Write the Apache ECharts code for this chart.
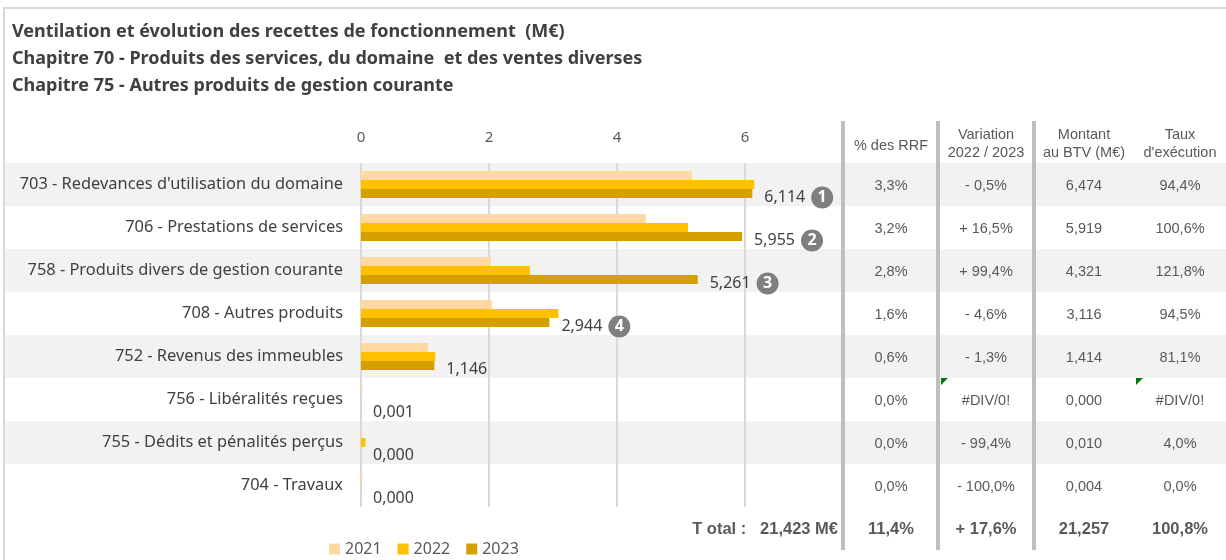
<!DOCTYPE html>
<html>
<head>
<meta charset="utf-8">
<script src="https://cdn.jsdelivr.net/npm/echarts@6/dist/echarts.min.js"></script>
<style>
  html, body { margin: 0; padding: 0; background: #fff; }
  #main { width: 1226px; height: 560px; }
</style>
</head>
<body>
<div id="main"></div>
<script>
var categories = [
    "703 - Redevances d'utilisation du domaine",
    '706 - Prestations de services',
    '758 - Produits divers de gestion courante',
    '708 - Autres produits',
    '752 - Revenus des immeubles',
    '756 - Libéralités reçues',
    '755 - Dédits et pénalités perçus',
    '704 - Travaux'
];
var years = ['2021', '2022', '2023'];
var v2021 = [5.17, 4.45, 2.03, 2.05, 1.05, 0.02, 0.015, 0.02];
var v2022 = [6.145, 5.11, 2.638, 3.086, 1.161, 0, 0.07, 0.005];
var v2023 = [6.114, 5.955, 5.261, 2.944, 1.146, 0.001, 0.0004, 0];
var ranks = [1, 2, 3, 4, null, null, null, null];
var xTicks = [0, 2, 4, 6];

// tableau de droite
var headers = [['% des RRF'], ['Variation', '2022 / 2023'], ['Montant', 'au BTV (M€)'], ['Taux', "d'exécution"]];
var pctRRF = ['3,3%', '3,2%', '2,8%', '1,6%', '0,6%', '0,0%', '0,0%', '0,0%'];
var variation = ['- 0,5%', '+ 16,5%', '+ 99,4%', '- 4,6%', '- 1,3%', '#DIV/0!', '- 99,4%', '- 100,0%'];
var montantBTV = ['6,474', '5,919', '4,321', '3,116', '1,414', '0,000', '0,010', '0,004'];
var tauxExec = ['94,4%', '100,6%', '121,8%', '94,5%', '81,1%', '#DIV/0!', '4,0%', '0,0%'];
var totalLabel = 'T otal :   21,423 M€';
var totals = ['11,4%', '+ 17,6%', '21,257', '100,8%'];

var colors = ['#ffd9a1', '#ffc000', '#d4a000'];
var textDark = '#404040';
var textGrey = '#595959';
var colX = [891, 986, 1084, 1180];
var dividerX = [843, 938, 1034];

function fmt(v) {
    return v.toFixed(3).replace('.', ',');
}

var myChart = echarts.init(document.getElementById('main'));

var option = {
    animation: false,
    backgroundColor: '#fff',
    title: {
        text: 'Ventilation et évolution des recettes de fonctionnement  (M€)\nChapitre 70 - Produits des services, du domaine  et des ventes diverses\nChapitre 75 - Autres produits de gestion courante',
        left: 12,
        top: 18,
        padding: 0,
        textStyle: {
            fontFamily: 'Noto Sans',
            fontSize: 18,
            fontWeight: 'bold',
            color: textDark,
            lineHeight: 27
        }
    },
    legend: {
        data: years,
        left: 329,
        top: 541,
        padding: 0,
        icon: 'rect',
        itemWidth: 11,
        itemHeight: 11,
        itemGap: 16,
        textStyle: { fontFamily: 'Noto Sans', fontSize: 16, color: textGrey }
    },
    grid: {
        left: 361,
        right: 1226 - 873,
        top: 163,
        bottom: 560 - 507
    },
    xAxis: {
        type: 'value',
        position: 'top',
        min: 0,
        max: 8,
        interval: 2,
        axisLine: { show: false },
        axisTick: { show: false },
        axisLabel: {
            showMaxLabel: false,
            margin: 18,
            fontFamily: 'Noto Sans',
            fontSize: 15,
            color: textGrey,
            formatter: function (v) { return xTicks.indexOf(v) >= 0 ? String(v) : ''; }
        },
        splitLine: { lineStyle: { color: '#d9d9d9', width: 2 } }
    },
    yAxis: {
        type: 'category',
        data: categories,
        inverse: true,
        axisLine: { show: false },
        axisTick: { show: false },
        axisLabel: {
            margin: 18,
            fontFamily: 'Noto Sans',
            fontSize: 16.4,
            color: textDark
        }
    },
    series: [
        {
            name: '2021', type: 'bar', data: v2021, barWidth: 9, barGap: '0%',
            itemStyle: { color: colors[0] }
        },
        {
            name: '2022', type: 'bar', data: v2022, barWidth: 9, barGap: '0%',
            itemStyle: { color: colors[1] }
        },
        {
            name: '2023', type: 'bar', data: v2023, barWidth: 9, barGap: '0%',
            itemStyle: { color: colors[2] },
            label: {
                show: true,
                position: 'right',
                distance: 12,
                offset: [0, 4],
                formatter: function (p) {
                    var r = ranks[p.dataIndex];
                    var s = '{v|' + fmt(p.value) + '}';
                    if (r) s += '{s|}{r|' + r + '}';
                    return s;
                },
                rich: {
                    v: { fontFamily: 'Noto Sans', fontSize: 16, color: textDark },
                    s: { width: 6 },
                    r: {
                        fontFamily: 'Noto Sans', fontSize: 16, fontWeight: 'bold', color: '#fff',
                        backgroundColor: '#7f7f7f', width: 22, height: 22, borderRadius: 11,
                        align: 'center', lineHeight: 22
                    }
                }
            }
        }
    ]
};
myChart.setOption(option);

// bandes, tableau et séparateurs, placés d'après l'axe des catégories
var graphics = [];
var yc = categories.map(function (c, i) { return myChart.convertToPixel({ yAxisIndex: 0 }, i); });
var step = yc[1] - yc[0];
var rowTop = yc[0] - step / 2;

// cadre (haut et gauche)
graphics.push({ type: 'polyline', z: 80, shape: { points: [[4, 560], [4, 8], [1226, 8]] },
    style: { fill: 'none', stroke: '#d9d9d9', lineWidth: 2 } });

categories.forEach(function (c, i) {
    var fill = i % 2 === 0 ? '#f2f2f2' : '#ffffff';
    var top = yc[i] - step / 2;
    graphics.push({ type: 'rect', z: -10, shape: { x: 5, y: top, width: 843 - 5, height: step }, style: { fill: fill } });
    graphics.push({ type: 'rect', z: 50, shape: { x: 843, y: top, width: 1226 - 843, height: step }, style: { fill: fill } });
    var cells = [pctRRF[i], variation[i], montantBTV[i], tauxExec[i]];
    cells.forEach(function (t, k) {
        graphics.push({ type: 'text', z: 60, style: {
            text: t, x: colX[k], y: yc[i] + 1, align: 'center', verticalAlign: 'middle',
            fontFamily: 'Liberation Sans', fontSize: 14.5, fill: textGrey } });
    });
});
// cache au-dessus et au-dessous du tableau
graphics.push({ type: 'rect', z: 50, shape: { x: 843, y: 115, width: 383, height: rowTop - 115 }, style: { fill: '#fff' } });
graphics.push({ type: 'rect', z: 50, shape: { x: 843, y: rowTop + step * categories.length, width: 383, height: 52 }, style: { fill: '#fff' } });

headers.forEach(function (h, k) {
    var y0 = h.length === 1 ? 146 : 135;
    h.forEach(function (line, j) {
        graphics.push({ type: 'text', z: 60, style: {
            text: line, x: colX[k], y: y0 + j * 18, align: 'center', verticalAlign: 'middle',
            fontFamily: 'Liberation Sans', fontSize: 14.5, fill: textGrey } });
    });
});

var yTot = rowTop + step * categories.length + 22;
graphics.push({ type: 'text', z: 60, style: {
    text: totalLabel, x: 838, y: yTot, align: 'right', verticalAlign: 'middle',
    fontFamily: 'Liberation Sans', fontSize: 16.5, fontWeight: 'bold', fill: textGrey } });
totals.forEach(function (t, k) {
    graphics.push({ type: 'text', z: 60, style: {
        text: t, x: colX[k], y: yTot, align: 'center', verticalAlign: 'middle',
        fontFamily: 'Liberation Sans', fontSize: 16.5, fontWeight: 'bold', fill: textGrey } });
});

dividerX.forEach(function (x) {
    graphics.push({ type: 'rect', z: 70, shape: { x: x - 2, y: 121, width: 4, height: 429 }, style: { fill: '#bfbfbf' } });
});

// petits triangles verts d'erreur Excel
[941, 1136].forEach(function (x) {
    var t = yc[5] - step / 2;
    graphics.push({ type: 'polygon', z: 70, shape: { points: [[x, t], [x + 7, t], [x, t + 7]] }, style: { fill: '#007a00' } });
});

myChart.setOption({ graphic: graphics });
</script>
</body>
</html>
